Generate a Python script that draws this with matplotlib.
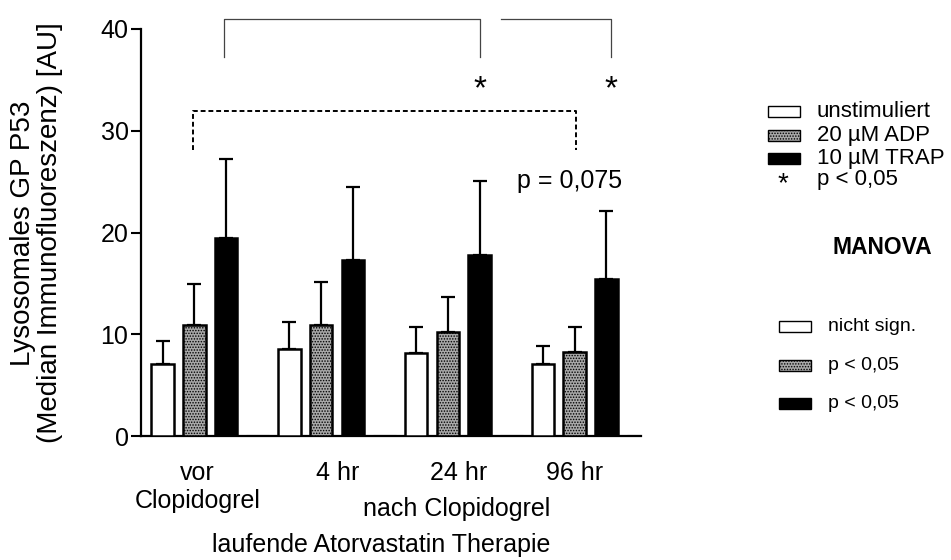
import matplotlib
matplotlib.use('Agg')
import matplotlib.pyplot as plt
from matplotlib.patches import Rectangle

plt.rcParams['font.family'] = ['Liberation Sans', 'DejaVu Sans']
plt.rcParams['hatch.linewidth'] = 0.7

# data
groups = ['vor', '4 hr', '24 hr', '96 hr']
unstim = [7.07, 8.55, 8.16, 7.07]
unstim_err = [2.31, 2.63, 2.53, 1.81]
adp = [10.95, 10.86, 10.26, 8.22]
adp_err = [4.02, 4.27, 3.42, 2.54]
trap = [19.5, 17.27, 17.76, 15.46]
trap_err = [7.77, 7.21, 7.30, 6.68]
series = [('unstimuliert', unstim, unstim_err),
          ('20 µM ADP', adp, adp_err),
          ('10 µM TRAP', trap, trap_err)]
manova = ['nicht sign.', 'p < 0,05', 'p < 0,05']

# bar styles
styles = [dict(facecolor='white'),
          dict(facecolor='#a8a8a8', hatch='......'),
          dict(facecolor='black')]

fig = plt.figure(figsize=(9.51, 5.6), dpi=100)
ax = fig.add_axes([141/951, 1-436/560, 500/951, 407/560])

W = 0.71
for k, (name, vals, errs) in enumerate(series):
    xs = [4*g + k for g in range(len(vals))]
    ax.bar(xs, vals, width=W, edgecolor='black', linewidth=1.8, zorder=3, **styles[k])
    ax.errorbar(xs, vals, yerr=[[0]*len(errs), errs], fmt='none', ecolor='black',
                elinewidth=1.6, capsize=5, capthick=1.6, zorder=2)
# empty spacer bars between the groups
spacer = [4*g + 3 for g in range(len(groups))]
ax.bar(spacer, [0]*len(spacer), width=W, edgecolor='black', linewidth=2.2, zorder=3, facecolor='white')

ax.set_xlim(-0.68, 15.09)
ax.set_ylim(0, 40)
ax.set_yticks([0, 10, 20, 30, 40])
ax.set_xticks([])
ax.tick_params(axis='y', direction='out', length=7, width=1.5, labelsize=18, pad=2)
for s in ['top', 'right']:
    ax.spines[s].set_visible(False)
ax.spines['left'].set_linewidth(1.6)
ax.spines['bottom'].set_linewidth(1.6)

# x labels
xlab_pos = [1.1, 5.53, 9.35, 13.0]
for xp, lab in zip(xlab_pos, groups):
    ax.annotate(lab, xy=(xp, 0), xycoords=('data', 'axes fraction'),
                xytext=(0, -31.7), textcoords='offset points',
                ha='center', va='baseline', fontsize=18)
ax.annotate('Clopidogrel', xy=(xlab_pos[0], 0), xycoords=('data', 'axes fraction'),
            xytext=(0, -52), textcoords='offset points', ha='center', va='baseline', fontsize=18)
ax.annotate('nach Clopidogrel', xy=(9.28, 0), xycoords=('data', 'axes fraction'),
            xytext=(0, -57.6), textcoords='offset points', ha='center', va='baseline', fontsize=18)
ax.annotate('laufende Atorvastatin Therapie', xy=(6.91, 0), xycoords=('data', 'axes fraction'),
            xytext=(0, -83.5), textcoords='offset points', ha='center', va='baseline', fontsize=18)

fig.text(37/951, 1-233/560, 'Lysosomales GP P53\n(Median Immunofluoreszenz) [AU]',
         rotation=90, ha='center', va='center', fontsize=20, linespacing=1.05)

# significance brackets
ax.plot([1.93, 1.93, 10.0, 10.0], [37.24, 40.97, 40.97, 37.24], color='#444444', lw=0.9, clip_on=False)
ax.plot([10.69, 14.15, 14.15], [40.97, 40.97, 37.24], color='#444444', lw=0.9, clip_on=False)
ax.text(10.0, 34.0, '*', ha='center', va='center', fontsize=24)
ax.text(14.15, 34.0, '*', ha='center', va='center', fontsize=24)
ax.plot([0.96, 0.96, 13.05, 13.05], [28.08, 31.98, 31.98, 28.08], color='black', lw=1.4,
        ls=(0, (2.5, 1.5)), clip_on=False)
ax.text(12.84, 25.07, 'p = 0,075', ha='center', va='center', fontsize=18)

# legend drawn in pixel coordinates
lax = fig.add_axes([0, 0, 1, 1])
lax.set_xlim(0, 951)
lax.set_ylim(560, 0)
lax.axis('off')
for (name, _, _), st, y in zip(series, styles, [111.7, 135, 158.3]):
    lax.add_patch(Rectangle((768, y-5.5), 32, 11, edgecolor='black', linewidth=1.0, **st))
    lax.text(817, y, name, va='center', ha='left', fontsize=16)
lax.text(783, 184, '*', ha='center', va='center', fontsize=20)
lax.text(817, 180, 'p < 0,05', va='center', ha='left', fontsize=16)
lax.text(882, 248, 'MANOVA', ha='center', va='center', fontsize=16.5, fontweight='bold')
for name, st, y in zip(manova, styles, [326.7, 365, 403]):
    lax.add_patch(Rectangle((779, y-5.5), 32, 11, edgecolor='black', linewidth=1.0, **st))
    lax.text(828, y, name, va='center', ha='left', fontsize=14)

fig.savefig('out.png', dpi=100)
